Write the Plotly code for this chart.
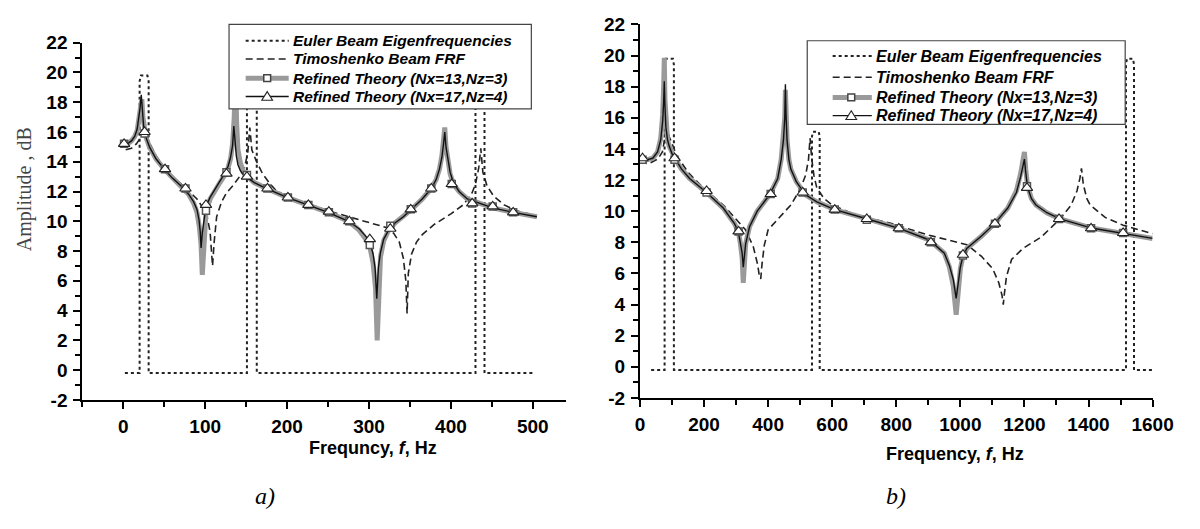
import plotly.graph_objects as go

# ---------------- DATA ----------------
# Panel a)  (0-500 Hz)
A_EULER = [(2, -0.2), (20, -0.2), (20, 19.4), (21.5, 19.8), (29.5, 19.8), (31, 19.4), (31, -0.2),
           (151, -0.2), (151, 19.4), (152.5, 19.8), (161.5, 19.8), (163, 19.4), (163, -0.2),
           (430, -0.2), (430, 19.4), (431.5, 19.8), (439.5, 19.8), (441, 19.4), (441, -0.2), (500, -0.2)]

A_TIMO = [(3, 14.8), (10, 14.9), (16, 15.2), (21, 15.6), (24, 16.0), (26, 16.1), (30, 15.5), (40, 14.4),
          (50, 13.6), (60, 13.0), (75, 12.3), (90, 11.5), (96, 11.0), (102, 10.4), (106, 9.3), (109, 7.0),
          (111, 8.6), (114, 10.3), (120, 11.3), (126, 11.9), (134, 12.4), (142, 13.0), (148, 13.6),
          (152, 14.6), (154.5, 16.3), (157, 14.8), (162, 14.1), (170, 13.2), (178, 12.6), (186, 12.1),
          (202, 11.6), (225, 11.2), (250, 10.7), (275, 10.3), (300, 9.9), (320, 9.6), (330, 9.2),
          (337, 8.6), (342, 7.5), (345, 6.0), (346.5, 3.8), (348, 6.5), (352, 7.8), (358, 8.6),
          (365, 9.1), (380, 9.8), (400, 10.5), (415, 11.1), (425, 11.8), (430, 12.5), (434, 13.6),
          (436.5, 14.9), (439, 13.3), (444, 12.4), (452, 11.7), (465, 11.1), (480, 10.7), (503, 10.4)]

A_REF13 = [(-2, 15.1), (5, 15.2), (10, 15.4), (14, 15.7), (17, 16.1), (19, 16.7), (21, 17.5), (22.7, 18.2),
           (24, 17.0), (25.5, 16.2), (28, 15.6), (32, 15.0), (40, 14.2), (50, 13.5), (60, 12.9),
           (70, 12.4), (80, 11.8), (86, 11.2), (90, 10.6), (93, 9.6), (95, 8.4), (96.5, 6.4), (98, 8.5),
           (100, 10.0), (101, 10.6), (106, 11.5), (112, 12.1), (118, 12.6), (124, 13.1), (128, 13.6),
           (131, 14.2), (133.5, 15.2), (135.5, 17.0), (137, 19.8), (138.5, 16.5), (140, 14.8),
           (143, 13.9), (147, 13.3), (152, 13.0), (160, 12.6), (175, 12.2), (200, 11.6), (225, 11.1),
           (250, 10.6), (275, 10.0), (288, 9.4), (296, 8.8), (301, 8.3), (305, 7.2), (308, 5.5),
           (310, 2.0), (312, 6.0), (314, 7.6), (318, 8.7), (324, 9.4), (332, 9.9), (342, 10.3),
           (352, 10.8), (365, 11.5), (376, 12.2), (382, 12.8), (386, 13.5), (389, 14.4), (391, 15.5),
           (392.5, 16.3), (394, 15.0), (396, 14.0), (399, 13.2), (403, 12.5), (410, 12.0), (420, 11.5),
           (435, 11.2), (451, 10.9), (476, 10.6), (505, 10.3)]

A_REF17 = [(-2, 15.1), (5, 15.2), (10, 15.4), (14, 15.7), (17, 16.2), (19, 16.9), (20.5, 17.6), (22, 18.5),
           (23.5, 17.1), (25, 16.3), (28, 15.6), (32, 15.0), (40, 14.2), (50, 13.5), (60, 12.9),
           (70, 12.4), (80, 11.8), (86, 11.3), (90, 10.8), (92.5, 10.1), (94, 9.3), (95, 8.2),
           (96.5, 9.2), (98.5, 10.2), (101, 11.0), (106, 11.6), (112, 12.2), (118, 12.7), (124, 13.2),
           (128, 13.7), (131, 14.3), (133.5, 15.1), (135, 16.4), (136.5, 15.3), (138, 14.4),
           (140, 13.8), (143, 13.4), (147, 13.1), (152, 12.9), (160, 12.6), (175, 12.2), (200, 11.6),
           (225, 11.1), (250, 10.6), (275, 10.0), (288, 9.5), (296, 9.0), (301, 8.6), (305, 7.8),
           (307.5, 6.8), (309.5, 4.8), (311.5, 6.9), (314, 7.9), (318, 8.8), (324, 9.4), (332, 9.9),
           (342, 10.3), (352, 10.8), (365, 11.5), (376, 12.2), (382, 12.8), (386, 13.5), (389, 14.3),
           (391, 15.2), (392.5, 16.0), (394, 15.0), (396, 14.2), (399, 13.3), (403, 12.6), (410, 12.0),
           (420, 11.5), (435, 11.2), (451, 10.9), (476, 10.6), (505, 10.3)]

A_MARK_F = [1, 26, 51, 76, 101, 126, 151, 176, 201, 226, 251, 276, 301, 326, 351, 376, 401, 426, 451, 476]
A_MARK_SQ = [15.2, 15.9, 13.5, 12.2, 10.7, 13.3, 13.1, 12.2, 11.6, 11.1, 10.6, 10.0, 8.4, 9.7, 10.8,
             12.2, 12.5, 11.2, 11.0, 10.6]
A_MARK_TR = [15.2, 16.0, 13.5, 12.2, 11.1, 13.2, 13.0, 12.2, 11.6, 11.1, 10.65, 10.0, 8.8, 9.5, 10.8,
             12.2, 12.5, 11.2, 11.0, 10.6]

# Panel b)  (0-1600 Hz)
B_EULER = [(35, -0.2), (77, -0.2), (77, 19.4), (80, 19.8), (103, 19.8), (106, 19.4), (106, -0.2),
           (537, -0.2), (537, 14.8), (540, 15.1), (558, 15.1), (561, 14.8), (561, -0.2),
           (1517, -0.2), (1517, 19.4), (1520, 19.8), (1539, 19.8), (1542, 19.4), (1542, -0.2), (1600, -0.2)]

B_TIMO = [(0, 13.15), (27, 13.05), (56, 13.35), (70, 13.8), (76, 14.5), (80, 15.2), (82, 15.6), (85, 15.3),
          (91, 14.8), (103, 14.2), (114, 13.6), (150, 12.5), (202, 11.4), (260, 10.4), (301, 9.5),
          (330, 8.8), (354, 7.7), (367, 6.6), (373, 5.8), (377, 5.65), (381, 6.6), (388, 7.8),
          (400, 8.8), (436, 9.6), (471, 10.4), (500, 11.4), (517, 12.3), (526, 13.3), (531, 14.7),
          (536, 13.4), (543, 12.3), (552, 11.5), (575, 10.8), (600, 10.4), (669, 9.8), (786, 9.2),
          (903, 8.45), (1020, 7.85), (1066, 7.1), (1101, 6.3), (1120, 5.4), (1130, 4.6), (1134, 4.0),
          (1138, 4.8), (1144, 5.8), (1160, 6.9), (1195, 7.6), (1253, 8.35), (1311, 9.5), (1346, 10.4),
          (1364, 11.3), (1373, 12.1), (1378, 12.75), (1384, 11.7), (1395, 10.8), (1405, 10.4),
          (1452, 9.6), (1508, 9.1), (1600, 8.55)]

B_REF13 = [(0, 13.45), (20, 13.3), (40, 13.4), (55, 13.8), (65, 14.7), (71, 16.2), (74, 18.0), (76, 19.85),
           (78, 17.2), (81, 15.6), (86, 14.6), (91, 14.2), (100, 13.7), (111, 13.3), (130, 12.7),
           (155, 12.1), (208, 11.2), (260, 10.2), (295, 9.2), (307, 8.7), (313, 8.0), (319, 7.0),
           (322.5, 5.4), (326, 7.0), (330, 7.9), (342, 9.0), (366, 10.0), (406, 11.1), (430, 12.1),
           (441, 13.35), (448, 14.6), (452, 16.0), (454, 17.8), (456, 16.0), (459, 14.6), (465, 13.3),
           (471, 12.7), (488, 11.9), (517, 11.05), (552, 10.6), (608, 10.1), (710, 9.5), (809, 8.9),
           (903, 8.15), (950, 7.3), (966, 6.4), (978, 5.2), (987, 3.35), (995, 5.4), (1000, 6.3),
           (1008, 7.1), (1020, 7.6), (1066, 8.4), (1107, 9.2), (1148, 10.2), (1175, 11.3), (1188, 12.4),
           (1195, 13.2), (1200, 13.8), (1204, 12.7), (1210, 11.6), (1222, 10.8), (1236, 10.4),
           (1270, 9.9), (1311, 9.5), (1413, 8.9), (1516, 8.55), (1600, 8.25)]

B_REF17 = [(0, 13.45), (20, 13.3), (40, 13.4), (55, 13.8), (65, 14.6), (71, 15.8), (74, 17.0), (76, 18.35),
           (78, 16.8), (81, 15.4), (86, 14.6), (91, 14.2), (100, 13.7), (111, 13.3), (130, 12.7),
           (155, 12.1), (208, 11.2), (260, 10.2), (295, 9.2), (307, 8.7), (313, 8.1), (319, 7.3),
           (322.5, 6.4), (326, 7.3), (330, 7.9), (342, 9.0), (366, 10.0), (406, 11.1), (430, 12.1),
           (441, 13.35), (448, 14.6), (452, 16.0), (454, 18.15), (456, 16.2), (459, 14.6), (465, 13.3),
           (471, 12.7), (488, 11.9), (517, 11.05), (552, 10.6), (608, 10.1), (710, 9.5), (809, 8.9),
           (903, 8.15), (950, 7.3), (966, 6.5), (978, 5.6), (987, 4.4), (995, 5.6), (1000, 6.4),
           (1008, 7.1), (1020, 7.6), (1066, 8.4), (1107, 9.2), (1148, 10.2), (1175, 11.2), (1188, 12.2),
           (1195, 12.9), (1200, 13.35), (1204, 12.5), (1210, 11.5), (1222, 10.8), (1236, 10.4),
           (1270, 9.9), (1311, 9.5), (1413, 8.9), (1516, 8.55), (1600, 8.25)]

B_MARK_F = [8, 108, 208, 308, 408, 508, 608, 708, 808, 908, 1008, 1108, 1208, 1308, 1408, 1508]
B_MARK_SQ = [13.3, 13.3, 11.2, 8.7, 11.1, 11.2, 10.1, 9.45, 8.9, 8.0, 7.15, 9.2, 11.6, 9.5, 8.9, 8.6]
B_MARK_TR = [13.4, 13.4, 11.3, 8.7, 11.1, 11.2, 10.1, 9.5, 8.9, 8.0, 7.2, 9.2, 11.5, 9.5, 8.9, 8.6]

NAMES = ["Euler Beam Eigenfrequencies", "Timoshenko Beam FRF",
         "Refined Theory (Nx=13,Nz=3)", "Refined Theory (Nx=17,Nz=4)"]
Y_TICKS = list(range(-2, 23, 2))
A_X_TICKS = [0, 100, 200, 300, 400, 500]
B_X_TICKS = [0, 200, 400, 600, 800, 1000, 1200, 1400, 1600]
X_TITLES = ["Frequncy, <i>f</i>, Hz", "Frequency, <i>f</i>, Hz"]
Y_TITLE = "Amplitude , dB"
CAPTIONS = ["a)", "b)"]

# ---------------- STYLE / LAYOUT ----------------
W, H = 1200, 529
SANS = "Liberation Sans, Arial, sans-serif"
SERIF = "Liberation Serif, Times New Roman, serif"
GRAY = "#9a9a9a"
EULER_LINE = dict(color="#222", width=2, dash="dot")
TIMO_LINE = dict(color="#222", width=1.6, dash="7px,4px")
R13_LINE = dict(color=GRAY, width=5)
R17_LINE = dict(color="#111", width=1.4)
SQ_MARK = dict(symbol="square", size=7, color="white", line=dict(color="#555", width=1.5))
TR_MARK = dict(symbol="triangle-up", size=10, color="white", line=dict(color="#222", width=1.1))


def px(x):
    return x / W


def py(y):
    return 1 - y / H


def xs(p):
    return [a for a, _ in p]


def ys(p):
    return [b for _, b in p]


fig = go.Figure()


def add_panel(xa, ya, euler, timo, r13, r17, mf, msq, mtr):
    common = dict(xaxis=xa, yaxis=ya, hoverinfo="skip", showlegend=False)
    fig.add_trace(go.Scatter(x=xs(euler), y=ys(euler), mode="lines", name=NAMES[0],
                             line=EULER_LINE, **common))
    fig.add_trace(go.Scatter(x=xs(timo), y=ys(timo), mode="lines", name=NAMES[1],
                             line=TIMO_LINE, **common))
    fig.add_trace(go.Scatter(x=xs(r13), y=ys(r13), mode="lines", name=NAMES[2],
                             line=R13_LINE, **common))
    fig.add_trace(go.Scatter(x=xs(r17), y=ys(r17), mode="lines", name=NAMES[3],
                             line=R17_LINE, **common))
    fig.add_trace(go.Scatter(x=mf, y=msq, mode="markers", name=NAMES[2],
                             marker=SQ_MARK, **common))
    fig.add_trace(go.Scatter(x=mf, y=mtr, mode="markers", name=NAMES[3],
                             marker=TR_MARK, **common))


add_panel("x", "y", A_EULER, A_TIMO, A_REF13, A_REF17, A_MARK_F, A_MARK_SQ, A_MARK_TR)
add_panel("x2", "y2", B_EULER, B_TIMO, B_REF13, B_REF17, B_MARK_F, B_MARK_SQ, B_MARK_TR)

tickfont = dict(family=SANS, size=19, color="black")


def xaxis_cfg(domain, rng, ticks, dminor, anchor):
    return dict(domain=domain, range=rng, tickmode="array", tickvals=ticks,
                ticktext=["<b>%d</b>" % t for t in ticks], showline=True, linecolor="black",
                linewidth=2, ticks="outside", ticklen=7, tickwidth=2, tickcolor="black",
                minor=dict(dtick=dminor, tick0=0, ticks="outside", ticklen=5, tickwidth=2,
                           tickcolor="black"),
                showgrid=False, zeroline=False, tickfont=tickfont, ticklabelstandoff=1,
                anchor=anchor, fixedrange=True)


def yaxis_cfg(domain, anchor):
    return dict(domain=domain, range=[-2, 22], tickmode="array", tickvals=Y_TICKS,
                ticktext=["<b>%d</b>" % t for t in Y_TICKS], showline=True, linecolor="black",
                linewidth=2, ticks="outside", ticklen=7, tickwidth=2, tickcolor="black",
                minor=dict(dtick=1, tick0=0, ticks="outside", ticklen=5, tickwidth=2,
                           tickcolor="black"),
                showgrid=False, zeroline=False, tickfont=tickfont, ticklabelstandoff=2,
                anchor=anchor, fixedrange=True)


# --- hand-drawn legends (box, samples, labels) ---
shapes = []
annotations = []


def add_legend(box, rows, sx0, sx1, mx, tx, fsize):
    x0, y0, x1, y1 = box
    shapes.append(dict(type="rect", xref="paper", yref="paper", x0=px(x0), x1=px(x1),
                       y0=py(y1), y1=py(y0), fillcolor="white",
                       line=dict(color="#444", width=1.2), layer="above"))
    styles = [EULER_LINE, TIMO_LINE, R13_LINE, R17_LINE]
    for i, (ry, st) in enumerate(zip(rows, styles)):
        shapes.append(dict(type="line", xref="paper", yref="paper", x0=px(sx0), x1=px(sx1),
                           y0=py(ry), y1=py(ry), layer="above",
                           line=dict(color=st["color"], width=st["width"],
                                     dash=st.get("dash", "solid"))))
        annotations.append(dict(text="<b><i>%s</i></b>" % NAMES[i], xref="paper", yref="paper",
                                x=px(tx), y=py(ry), xanchor="left", yanchor="middle",
                                showarrow=False,
                                font=dict(family=SANS, size=fsize, color="black")))
    # square marker sample
    r = rows[2]
    shapes.append(dict(type="rect", xref="paper", yref="paper", x0=px(mx - 3.5), x1=px(mx + 3.5),
                       y0=py(r + 3.5), y1=py(r - 3.5), fillcolor="white",
                       line=dict(color="#444", width=1.5), layer="above"))
    # triangle marker sample
    r = rows[3]
    path = "M %f,%f L %f,%f L %f,%f Z" % (px(mx), py(r - 5), px(mx - 5.5), py(r + 4),
                                           px(mx + 5.5), py(r + 4))
    shapes.append(dict(type="path", xref="paper", yref="paper", path=path, fillcolor="white",
                       line=dict(color="#222", width=1.1), layer="above"))


add_legend((229, 15, 538, 103), [32, 51, 71, 90], 246, 290, 268, 292, 15.5)
add_legend((820, 32, 1145, 119), [48, 70, 91, 110], 846, 886, 865, 888, 16)

annotations += [
    dict(text=Y_TITLE, xref="paper", yref="paper", x=px(20), y=py(187), textangle=-90,
         xanchor="center", yanchor="middle", showarrow=False,
         font=dict(family=SERIF, size=20, color="#444")),
    dict(text="<b>%s</b>" % X_TITLES[0], xref="paper", yref="paper", x=px(376), y=py(456),
         xanchor="center", yanchor="middle", showarrow=False,
         font=dict(family=SANS, size=18, color="black")),
    dict(text="<b>%s</b>" % X_TITLES[1], xref="paper", yref="paper", x=px(971), y=py(462),
         xanchor="center", yanchor="middle", showarrow=False,
         font=dict(family=SANS, size=18, color="black")),
    dict(text="<i>%s</i>" % CAPTIONS[0], xref="paper", yref="paper", x=px(266), y=py(506),
         xanchor="center", yanchor="middle", showarrow=False,
         font=dict(family=SERIF, size=24, color="black")),
    dict(text="<i>%s</i>" % CAPTIONS[1], xref="paper", yref="paper", x=px(911), y=py(506),
         xanchor="center", yanchor="middle", showarrow=False,
         font=dict(family=SERIF, size=24, color="black")),
]

fig.update_layout(
    width=W, height=H, margin=dict(l=0, r=0, t=0, b=0), autosize=False,
    paper_bgcolor="white", plot_bgcolor="white", showlegend=False,
    xaxis=xaxis_cfg([px(79), px(573)], [-50, 540], A_X_TICKS, 50, "y"),
    yaxis=yaxis_cfg([py(406), py(34)], "x"),
    xaxis2=xaxis_cfg([px(649), px(1173)], [0, 1600], B_X_TICKS, 100, "y2"),
    yaxis2=yaxis_cfg([py(404), py(15)], "x2"),
    shapes=shapes,
    annotations=annotations,
)

fig.write_html("out.html", config={"displayModeBar": False, "staticPlot": True},
               post_script="document.body.style.margin='0px';document.body.style.overflow='hidden';")
